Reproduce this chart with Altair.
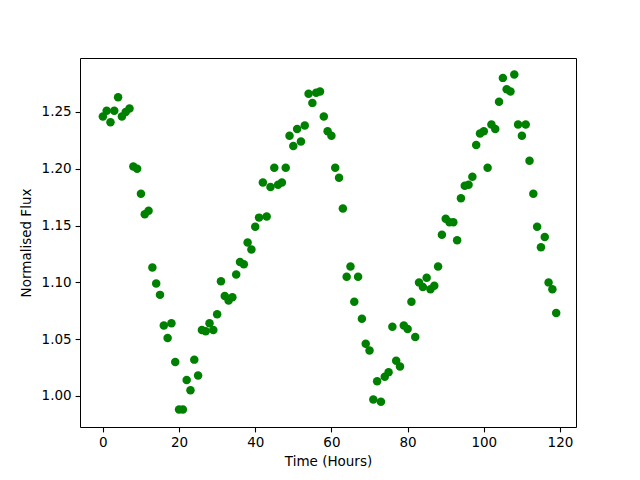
import altair as alt
import pandas as pd

time_hours = [
    0, 1, 2, 3, 4, 5, 6, 7, 8, 9,
    10, 11, 12, 13, 14, 15, 16, 17, 18, 19,
    20, 21, 22, 23, 24, 25, 26, 27, 28, 29,
    30, 31, 32, 33, 34, 35, 36, 37, 38, 39,
    40, 41, 42, 43, 44, 45, 46, 47, 48, 49,
    50, 51, 52, 53, 54, 55, 56, 57, 58, 59,
    60, 61, 62, 63, 64, 65, 66, 67, 68, 69,
    70, 71, 72, 73, 74, 75, 76, 77, 78, 79,
    80, 81, 82, 83, 84, 85, 86, 87, 88, 89,
    90, 91, 92, 93, 94, 95, 96, 97, 98, 99,
    100, 101, 102, 103, 104, 105, 106, 107, 108, 109,
    110, 111, 112, 113, 114, 115, 116, 117, 118, 119,
]

flux = [
    1.246, 1.251, 1.241, 1.251, 1.263, 1.246, 1.250, 1.253, 1.202, 1.200,
    1.178, 1.160, 1.163, 1.113, 1.099, 1.089, 1.062, 1.051, 1.064, 1.030,
    0.988, 0.988, 1.014, 1.005, 1.032, 1.018, 1.058, 1.057, 1.064, 1.058,
    1.072, 1.101, 1.088, 1.084, 1.087, 1.107, 1.118, 1.116, 1.135, 1.129,
    1.149, 1.157, 1.188, 1.158, 1.184, 1.201, 1.186, 1.188, 1.201, 1.229,
    1.220, 1.235, 1.224, 1.238, 1.266, 1.258, 1.267, 1.268, 1.246, 1.233,
    1.229, 1.201, 1.192, 1.165, 1.105, 1.114, 1.083, 1.105, 1.068, 1.046,
    1.040, 0.997, 1.013, 0.995, 1.017, 1.021, 1.061, 1.031, 1.026, 1.062,
    1.059, 1.083, 1.052, 1.100, 1.096, 1.104, 1.094, 1.097, 1.114, 1.142,
    1.156, 1.153, 1.153, 1.137, 1.174, 1.185, 1.186, 1.193, 1.221, 1.231,
    1.233, 1.201, 1.239, 1.235, 1.259, 1.280, 1.270, 1.268, 1.283, 1.239,
    1.229, 1.239, 1.207, 1.178, 1.149, 1.131, 1.140, 1.100, 1.094, 1.073,
]

df = pd.DataFrame({"t": time_hours, "flux": flux})

x_ticks = [0, 20, 40, 60, 80, 100, 120]
y_ticks = [1.00, 1.05, 1.10, 1.15, 1.20, 1.25]

chart = (
    alt.Chart(df)
    .mark_circle(size=72, color="#008000", opacity=1)
    .encode(
        x=alt.X(
            "t:Q",
            scale=alt.Scale(domain=[-6.0, 124.2], nice=False, zero=False),
            axis=alt.Axis(title="Time (Hours)", values=x_ticks, format="d"),
        ),
        y=alt.Y(
            "flux:Q",
            scale=alt.Scale(domain=[0.9727, 1.2975], nice=False, zero=False),
            axis=alt.Axis(title="Normalised Flux", values=y_ticks, format=".2f"),
        ),
    )
    .properties(
        width=496,
        height=369,
        padding={"left": 72, "top": 50, "right": 48, "bottom": 45},
        autosize=alt.AutoSizeParams(type="none"),
    )
    .configure_view(stroke="black", strokeWidth=1)
    .configure_axis(
        grid=False,
        domain=False,
        ticks=True,
        tickColor="black",
        tickSize=4.9,
        tickWidth=1.1,
        labelFont="DejaVu Sans",
        labelFontSize=13.5,
        labelColor="black",
        labelPadding=4,
        titleFont="DejaVu Sans",
        titleFontSize=13.5,
        titleFontWeight="normal",
        titleColor="black",
    )
    .configure_axisX(titlePadding=5)
    .configure_axisY(titlePadding=8)
)

chart.save("out.html", embed_options={"renderer": "svg", "actions": False})
